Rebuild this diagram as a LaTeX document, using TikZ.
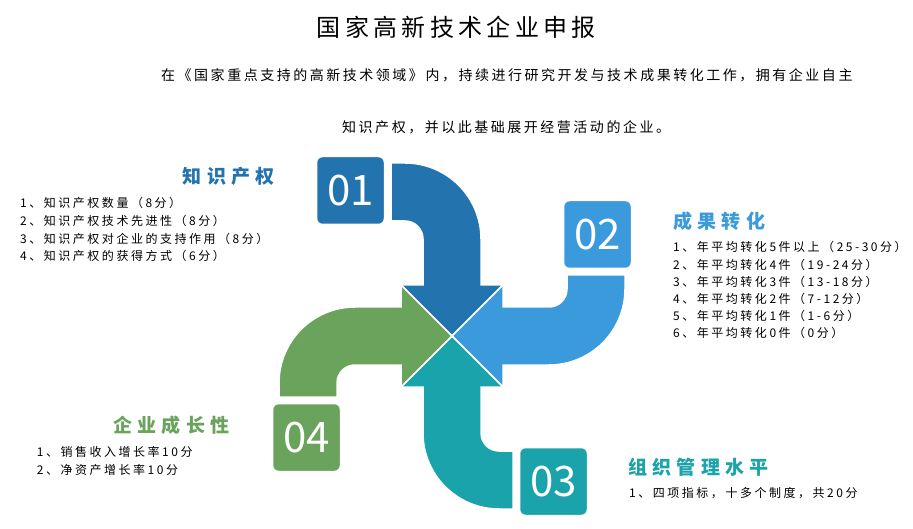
\documentclass[tikz,border=0pt]{standalone}
\usepackage{fontspec}
\newfontfamily\cjk{Noto Sans CJK SC}
\newfontfamily\cjkT{Noto Sans CJK SC}[LetterSpace=18]
\newfontfamily\cjkH{Noto Sans CJK SC}[LetterSpace=28]
\newfontfamily\cjkI{Noto Sans CJK SC}[LetterSpace=21]
\definecolor{cone}{HTML}{2273AE}
\definecolor{ctwo}{HTML}{3A9ADB}
\definecolor{cthree}{HTML}{1BA3AB}
\definecolor{cfour}{HTML}{6AA35B}
\tikzset{
  pics/pipearrow/.style={code={
    \filldraw[fill=#1, draw=white, line width=1.5pt, line join=miter]
      (-51,51) -- (0,0) -- (51,51) -- (29,51) -- (29,97)
      arc[start angle=0, end angle=90, radius=76] -- (-61,173) -- (-61,115) -- (-47,115)
      arc[start angle=90, end angle=0, radius=18] -- (-29,51) -- cycle;
  }},
  numbox/.style={draw=white, line width=1.5pt, rounded corners=6pt, minimum size=68pt,
    inner sep=0pt, text=white, font=\cjk\fontsize{42}{42}\selectfont},
  heading/.style={anchor=base west, inner sep=0pt, font=\cjkH\bfseries\fontsize{19}{19}\selectfont},
  item/.style={anchor=base west, inner sep=0pt, text=black, font=\cjkI\fontsize{12}{12}\selectfont},
  titletext/.style={anchor=base west, inner sep=0pt, text=black, font=\cjkT\fontsize{24}{24}\selectfont},
  subtext/.style={anchor=base west, inner sep=0pt, text=black, font=\cjkT\fontsize{14}{14}\selectfont},
}
\begin{document}
\begin{tikzpicture}[x=1pt, y=1pt]
\fill[white] (0,0) rectangle (913,-529);
\useasboundingbox (0,0) rectangle (913,-529);

% pinwheel arrows
\pic at (452,-336) {pipearrow=cone};
\pic[rotate=-90] at (452,-336) {pipearrow=ctwo};
\pic[rotate=-180] at (452,-336) {pipearrow=cthree};
\pic[rotate=90] at (452,-336) {pipearrow=cfour};

% number boxes
\node[numbox, fill=cone] (b1) at (350.5,-190.5) {01};
\node[numbox, fill=ctwo] (b2) at (597.5,-234.5) {02};
\node[numbox, fill=cthree] (b3) at (553.5,-481.5) {03};
\node[numbox, fill=cfour] (b4) at (306.5,-437.5) {04};

% title and intro
\node[titletext] (title) at (316.7,-36.6) {国家高新技术企业申报};
\node[subtext] (sub1) at (161,-81) {在《国家重点支持的高新技术领域》内，持续进行研究开发与技术成果转化工作，拥有企业自主};
\node[subtext] (sub2) at (342,-132.3) {知识产权，并以此基础展开经营活动的企业。};

% headings
\node[heading, text=cone] (h1) at (182.7,-183.2) {知识产权};
\node[heading, text=ctwo] (h2) at (673,-228.9) {成果转化};
\node[heading, text=cthree] (h3) at (628,-474.2) {组织管理水平};
\node[heading, text=cfour] (h4) at (113,-432.2) {企业成长性};

% items
\foreach \t [count=\i] in {{1、知识产权数量（8分）},{2、知识产权技术先进性（8分）},{3、知识产权对企业的支持作用（8分）},{4、知识产权的获得方式（6分）}}
  \node[item] (ia\i) at (20,{-207.9-17.6*(\i-1)}) {\t};
\foreach \t [count=\i] in {{1、年平均转化5件以上（25-30分）},{2、年平均转化4件（19-24分）},{3、年平均转化3件（13-18分）},{4、年平均转化2件（7-12分）},{5、年平均转化1件（1-6分）},{6、年平均转化0件（0分）}}
  \node[item] (ib\i) at (673,{-251.9-17.2*(\i-1)}) {\t};
\foreach \t [count=\i] in {{1、销售收入增长率10分},{2、净资产增长率10分}}
  \node[item] (id\i) at (36.7,{-456.3-18*(\i-1)}) {\t};
\node[item] (ic1) at (629,-497.6) {1、四项指标，十多个制度，共20分};
\end{tikzpicture}
\end{document}
